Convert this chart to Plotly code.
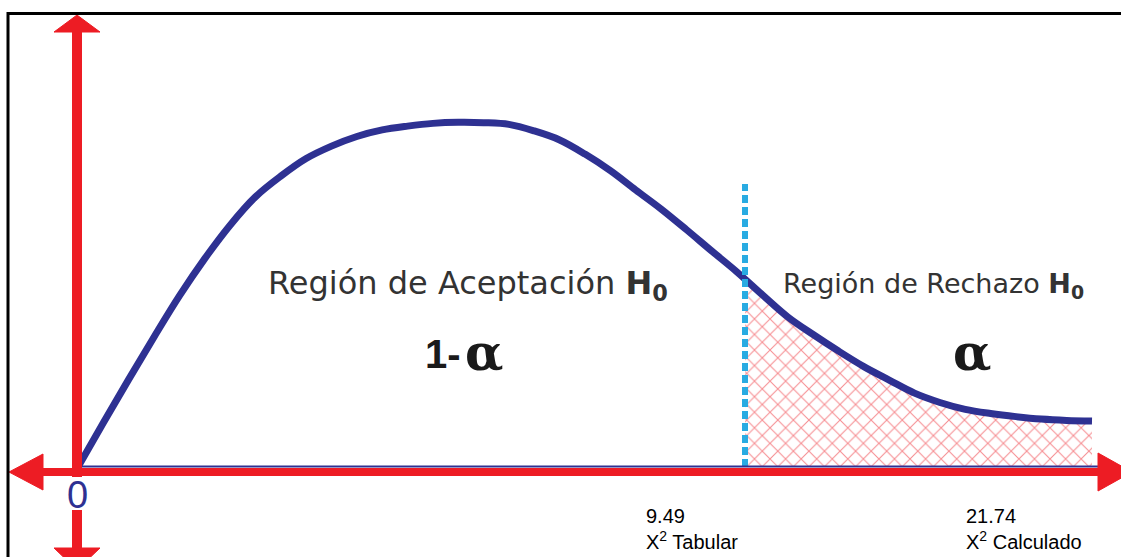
import plotly.graph_objects as go

# ---- data (schematic chi-square density, abstract units; peak = 100) ----
curve_x = [0, 2.5, 5, 7.5, 10, 12.5, 15, 17.5, 20, 22.5, 25, 27.5, 30, 32.5,
           35, 37.5, 40, 42.5, 45, 47.5, 50, 52.5, 55, 57.5, 60, 62.5, 65,
           67.5, 70, 72.5, 75, 77.5, 80, 82.5, 85, 87.5, 90, 92.5, 95, 97.5, 100]
curve_y = [0, 12.8, 25.4, 37.7, 49.6, 60.4, 70.1, 78.3, 84.3, 89.4, 93.0,
           95.8, 97.7, 98.8, 99.6, 99.9, 99.8, 99.3, 97.4, 94.8, 90.7, 85.9,
           80.3, 74.8, 68.8, 62.6, 56.5, 49.9, 43.5, 38.4, 33.6, 29.1, 25.2,
           21.4, 18.7, 16.7, 15.5, 14.6, 13.9, 13.5, 13.3]
critical_x = 65.78          # where the tabular value sits on the schematic
critical_y = 54.2           # curve height at the critical value
critical_top = 82.0         # top of the dashed marker line
tick_values = ["9.49", "21.74"]
tick_names = ["X<sup>2</sup> Tabular", "X<sup>2</sup> Calculado"]
region_labels = ["Región de Aceptación <b>H<sub>0</sub></b>",
                 "Región de Rechazo <b>H<sub>0</sub></b>"]

RED = "#ED1C24"
NAVY = "#2E3192"
CYAN = "#29ABE2"

# ---- pixel -> data helpers for layout/decoration placement ----
W, H = 1121, 557
X0PX, XS = 78.0, 10.14
Y0PX, YS = 467.0, 3.45


def dx(px):
    return (px - X0PX) / XS


def dy(py):
    return (Y0PX - py) / YS


fig = go.Figure()

# rejection region hatch
rej_x = [critical_x] + [x for x in curve_x if x > critical_x]
rej_y = [critical_y] + [y for x, y in zip(curve_x, curve_y) if x > critical_x]
fig.add_trace(go.Scatter(
    x=rej_x, y=rej_y, mode="lines", fill="tozeroy",
    line=dict(width=0, shape="spline", color="rgba(0,0,0,0)"),
    fillcolor="rgba(255,255,255,0)",
    fillpattern=dict(shape="x", fgcolor=RED, bgcolor="white",
                     size=11, solidity=0.18),
    hoverinfo="skip"))

# density curve
fig.add_trace(go.Scatter(
    x=curve_x, y=curve_y, mode="lines",
    line=dict(color=NAVY, width=7, shape="spline", smoothing=1.0),
    hoverinfo="skip"))

# dashed critical line
fig.add_trace(go.Scatter(
    x=[critical_x, critical_x], y=[0, critical_top], mode="lines",
    line=dict(color=CYAN, width=6, dash="8px,4px"), hoverinfo="skip"))

shapes = []
# thin navy baseline
shapes.append(dict(type="line", x0=dx(78), x1=dx(1098), y0=dy(466.5), y1=dy(466.5),
                   line=dict(color=NAVY, width=2), layer="above"))
# red axes
shapes.append(dict(type="line", x0=dx(40), x1=dx(1100), y0=dy(472), y1=dy(472),
                   line=dict(color=RED, width=8), layer="above"))
shapes.append(dict(type="line", x0=dx(77), x1=dx(77), y0=dy(30), y1=dy(477),
                   line=dict(color=RED, width=10), layer="above"))
shapes.append(dict(type="line", x0=dx(77), x1=dx(77), y0=dy(510), y1=dy(550),
                   line=dict(color=RED, width=10), layer="above"))


def tri(p1, p2, p3):
    return dict(type="path",
                path=f"M {dx(p1[0])},{dy(p1[1])} L {dx(p2[0])},{dy(p2[1])} "
                     f"L {dx(p3[0])},{dy(p3[1])} Z",
                fillcolor=RED, line=dict(color=RED, width=1), layer="above")


shapes.append(tri((77, 15), (54, 32), (100, 32)))      # up
shapes.append(tri((77, 570), (54, 548), (100, 548)))   # down
shapes.append(tri((9, 472), (43, 454), (43, 490)))     # left
shapes.append(tri((1132, 472), (1098, 453), (1098, 491)))  # right

# frame
shapes.append(dict(type="line", xref="paper", yref="paper", x0=8 / W, x1=1.01,
                   y0=1 - 13.5 / H, y1=1 - 13.5 / H, line=dict(color="black", width=3)))
shapes.append(dict(type="line", xref="paper", yref="paper", x0=8 / W, x1=8 / W,
                   y0=1 - 12 / H, y1=-0.02, line=dict(color="black", width=3)))

ann = []
ann.append(dict(x=dx(266), y=dy(285), text=region_labels[0], xanchor="left",
                yanchor="middle", showarrow=False,
                font=dict(family="DejaVu Sans", size=32, color="#333333")))
ann.append(dict(x=dx(781), y=dy(285), text=region_labels[1], xanchor="left",
                yanchor="middle", showarrow=False,
                font=dict(family="DejaVu Sans", size=27, color="#333333")))
ann.append(dict(x=dx(463), y=dy(354), text="<b>1-</b>", xanchor="right",
                yanchor="middle", showarrow=False,
                font=dict(family="Liberation Sans", size=40, color="#1a1a1a")))
ann.append(dict(x=dx(484), y=dy(352), text="<b>α</b>", xanchor="center",
                yanchor="middle", showarrow=False,
                font=dict(family="DejaVu Serif", size=50, color="#1a1a1a")))
ann.append(dict(x=dx(972), y=dy(352), text="<b>α</b>", xanchor="center",
                yanchor="middle", showarrow=False,
                font=dict(family="DejaVu Serif", size=50, color="#1a1a1a")))
ann.append(dict(x=dx(77), y=dy(495), text="0", xanchor="center",
                yanchor="middle", showarrow=False,
                font=dict(family="Liberation Sans", size=38, color=NAVY)))
for px, v, n in zip([644, 964], tick_values, tick_names):
    ann.append(dict(x=dx(px), y=dy(503), text=f"{v}<br>{n}", xanchor="left",
                    yanchor="top", align="left", showarrow=False,
                    font=dict(family="Liberation Sans", size=20, color="black")))

fig.update_layout(
    width=W, height=H, margin=dict(l=0, r=0, t=0, b=0, pad=0),
    font=dict(family="Liberation Sans", size=20),
    paper_bgcolor="white", plot_bgcolor="white", showlegend=False,
    xaxis=dict(range=[dx(0), dx(W)], visible=False, fixedrange=True),
    yaxis=dict(range=[dy(H), dy(0)], visible=False, fixedrange=True),
    shapes=shapes, annotations=ann)

fig.write_html("out.html", config={"displayModeBar": False},
               post_script="document.body.style.margin='0';document.body.style.overflow='hidden';")
